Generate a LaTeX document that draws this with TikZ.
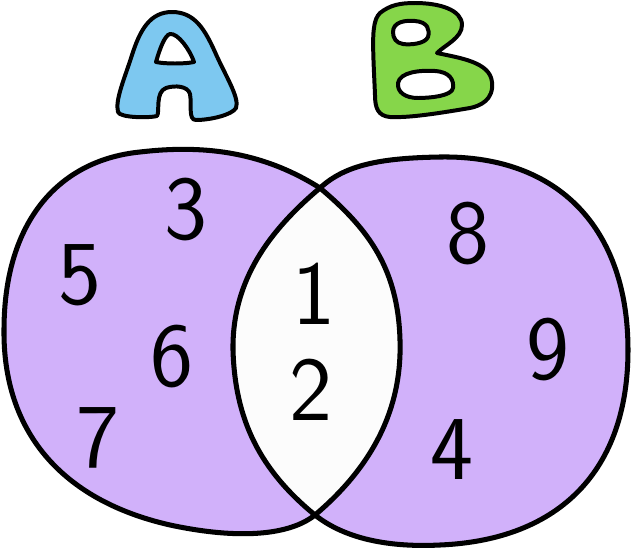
\documentclass[tikz,border=0pt]{standalone}
\usepackage{tikz}
\usetikzlibrary{arrows.meta}
\usepackage{xcolor}
\definecolor{setfill}{RGB}{209,177,250}
\definecolor{letterA}{RGB}{125,200,240}
\definecolor{letterB}{RGB}{134,214,74}

\begin{document}
\begin{tikzpicture}[x=0.03cm,y=-0.03cm,line join=round,line cap=round,
  outline/.style={line width=4.3pt,black},
  bubble/.style={line width=3.4pt,black,even odd rule},
  digit/.style={font=\fontsize{78}{78}\selectfont\sffamily,inner sep=0pt}]
\useasboundingbox (0,0) rectangle (631,551);
% the two sets
\fill[setfill] (320,188) .. controls (260,150) and (200,145) .. (140,152)
  .. controls (60,160) and (4,220) .. (4,330)
  .. controls (3,430) and (60,500) .. (170,525)
  .. controls (240,540) and (290,535) .. (315,515)
  .. controls (380,460) and (402,400) .. (400,340)
  .. controls (398,270) and (370,230) .. (320,188) -- cycle;
\fill[setfill] (320,188) .. controls (345,165) and (380,158) .. (440,157)
  .. controls (560,155) and (628,230) .. (628,350)
  .. controls (628,470) and (560,540) .. (440,545)
  .. controls (380,548) and (340,535) .. (315,515)
  .. controls (260,470) and (235,420) .. (233,350)
  .. controls (232,280) and (270,230) .. (320,188) -- cycle;
\fill[white!99!black] (320,188) .. controls (370,230) and (398,270) .. (400,340)
  .. controls (402,400) and (380,460) .. (315,515)
  .. controls (260,470) and (235,420) .. (233,350)
  .. controls (232,280) and (270,230) .. (320,188) -- cycle;
\draw[outline] (320,188) .. controls (260,150) and (200,145) .. (140,152)
  .. controls (60,160) and (4,220) .. (4,330)
  .. controls (3,430) and (60,500) .. (170,525)
  .. controls (240,540) and (290,535) .. (315,515)
  .. controls (380,460) and (402,400) .. (400,340)
  .. controls (398,270) and (370,230) .. (320,188) -- cycle;
\draw[outline] (320,188) .. controls (345,165) and (380,158) .. (440,157)
  .. controls (560,155) and (628,230) .. (628,350)
  .. controls (628,470) and (560,540) .. (440,545)
  .. controls (380,548) and (340,535) .. (315,515)
  .. controls (260,470) and (235,420) .. (233,350)
  .. controls (232,280) and (270,230) .. (320,188) -- cycle;
% letter A
\filldraw[bubble,fill=letterA] (172,12) .. controls (150,12) and (140,30) .. (132,55)
  .. controls (124,80) and (115,100) .. (118,112) .. controls (120,118) and (150,118) .. (157,116)
  .. controls (160,112) and (155,92) .. (166,88) .. controls (175,85) and (188,86) .. (190,94)
  .. controls (192,105) and (188,120) .. (196,120) .. controls (210,120) and (232,115) .. (236,108)
  .. controls (240,98) and (225,75) .. (215,52) .. controls (205,30) and (195,12) .. (172,12) -- cycle
  (156,62) .. controls (160,48) and (165,35) .. (170,34) .. controls (178,33) and (190,50) .. (194,62)
  .. controls (185,64) and (165,64) .. (156,62) -- cycle;
% letter B
\filldraw[bubble,fill=letterB] (380,13) .. controls (390,5) and (400,3) .. (415,3)
  .. controls (440,3) and (462,10) .. (462,25) .. controls (462,38) and (445,45) .. (437,53)
  .. controls (460,58) and (490,62) .. (492,82) .. controls (494,100) and (480,106) .. (470,108)
  .. controls (440,113) and (410,118) .. (390,117) .. controls (378,116) and (375,108) .. (375,95)
  .. controls (374,70) and (372,40) .. (374,28) .. controls (375,20) and (377,16) .. (380,13) -- cycle
  (393,32) .. controls (393,22) and (405,20) .. (415,21) .. controls (428,22) and (430,30) .. (428,37)
  .. controls (425,44) and (410,45) .. (403,44) .. controls (396,43) and (393,38) .. (393,32) -- cycle
  (398,83) .. controls (400,72) and (420,70) .. (435,71) .. controls (450,72) and (454,80) .. (453,88)
  .. controls (452,96) and (430,98) .. (418,98) .. controls (405,98) and (397,92) .. (398,83) -- cycle;
% elements
\node[digit] (d3) at (186,210) {3};
\node[digit] (d5) at (80,275) {5};
\node[digit] (d6) at (172,357) {6};
\node[digit] (d7) at (98,438) {7};
\node[digit] (d1) at (314,294) {1};
\node[digit] (d2) at (311,390) {2};
\node[digit] (d8) at (468,234) {8};
\node[digit] (d9) at (548,350) {9};
\node[digit] (d4) at (452,450) {4};
\end{tikzpicture}
\end{document}
